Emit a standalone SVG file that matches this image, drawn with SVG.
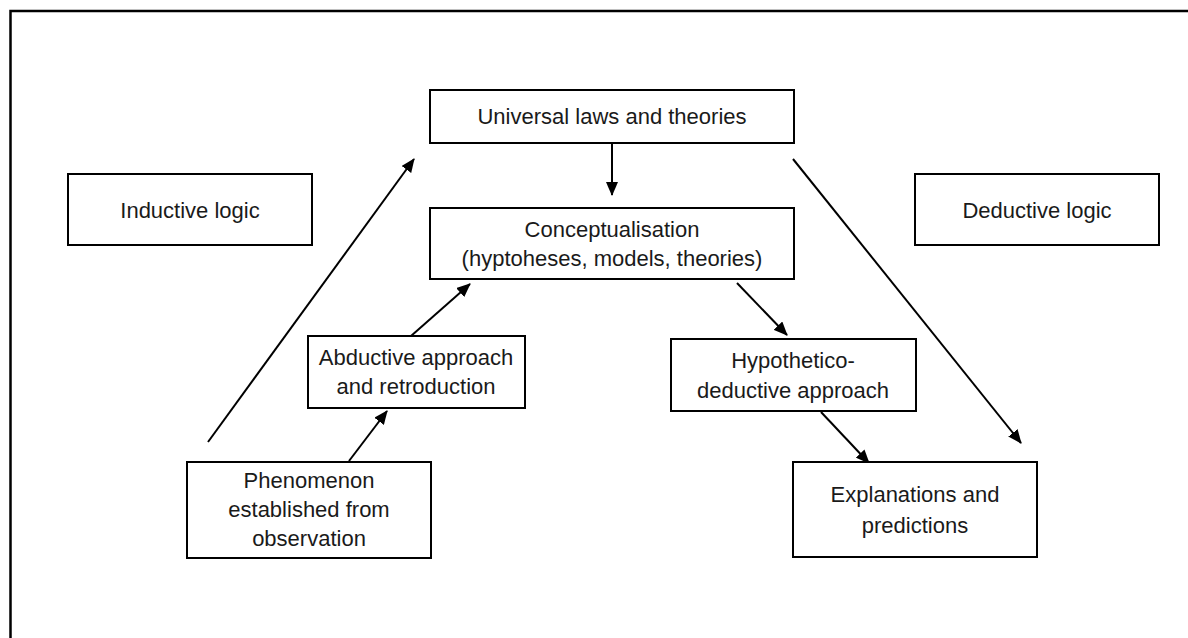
<svg xmlns="http://www.w3.org/2000/svg" width="1188" height="638" viewBox="0 0 1188 638">
<style>
.box{fill:#fff;stroke:#000;stroke-width:2}
.t{font-family:"Liberation Sans",Arial,sans-serif;font-size:22px;fill:#1a1a1a;text-anchor:middle}
.c{stroke:#000;stroke-width:2;fill:none;marker-end:url(#ah)}
.l{stroke:#000;stroke-width:2;fill:none}
</style>
<defs>
<marker id="ah" markerWidth="14" markerHeight="12" refX="13" refY="6" orient="auto" markerUnits="userSpaceOnUse">
<path d="M0,0 L14,6 L0,12 Z" fill="#000"/>
</marker>
</defs>
<rect width="1188" height="638" fill="#fff"/>
<path d="M10.5,638 V11 H1188" fill="none" stroke="#000" stroke-width="2.5"/>
<g id="connectors">
<line class="c" x1="612" y1="143" x2="612" y2="195"/>
<line class="c" x1="208" y1="442" x2="414" y2="159"/>
<line class="c" x1="793" y1="159" x2="1021" y2="443"/>
<line class="c" x1="349" y1="461" x2="387" y2="411"/>
<line class="c" x1="411" y1="336" x2="470" y2="284"/>
<line class="c" x1="737" y1="283" x2="787" y2="335"/>
<line class="c" x1="821" y1="412" x2="869" y2="463"/>
</g>
<g id="inductive">
<rect class="box" x="68" y="174" width="244" height="71"/>
<text class="t" x="190" y="218">Inductive logic</text>
</g>
<g id="deductive">
<rect class="box" x="915" y="174" width="244" height="71"/>
<text class="t" x="1037" y="218">Deductive logic</text>
</g>
<g id="universal">
<rect class="box" x="430" y="90" width="364" height="53"/>
<text class="t" x="612" y="124">Universal laws and theories</text>
</g>
<g id="conceptualisation">
<rect class="box" x="430" y="208" width="364" height="71"/>
<text class="t" x="612" y="237">Conceptualisation</text>
<text class="t" x="612" y="266">(hyptoheses, models, theories)</text>
</g>
<g id="abductive">
<rect class="box" x="308" y="336" width="217" height="72"/>
<text class="t" x="416" y="365">Abductive approach</text>
<text class="t" x="416" y="394">and retroduction</text>
</g>
<g id="phenomenon">
<rect class="box" x="187" y="462" width="244" height="96"/>
<text class="t" x="309" y="488">Phenomenon</text>
<text class="t" x="309" y="517">established from</text>
<text class="t" x="309" y="546">observation</text>
</g>
<g id="hypothetico">
<rect class="box" x="671" y="339" width="245" height="72"/>
<text class="t" x="793" y="368">Hypothetico-</text>
<text class="t" x="793" y="398">deductive approach</text>
</g>
<g id="explanations">
<rect class="box" x="793" y="462" width="244" height="95"/>
<text class="t" x="915" y="502">Explanations and</text>
<text class="t" x="915" y="533">predictions</text>
</g>
</svg>
